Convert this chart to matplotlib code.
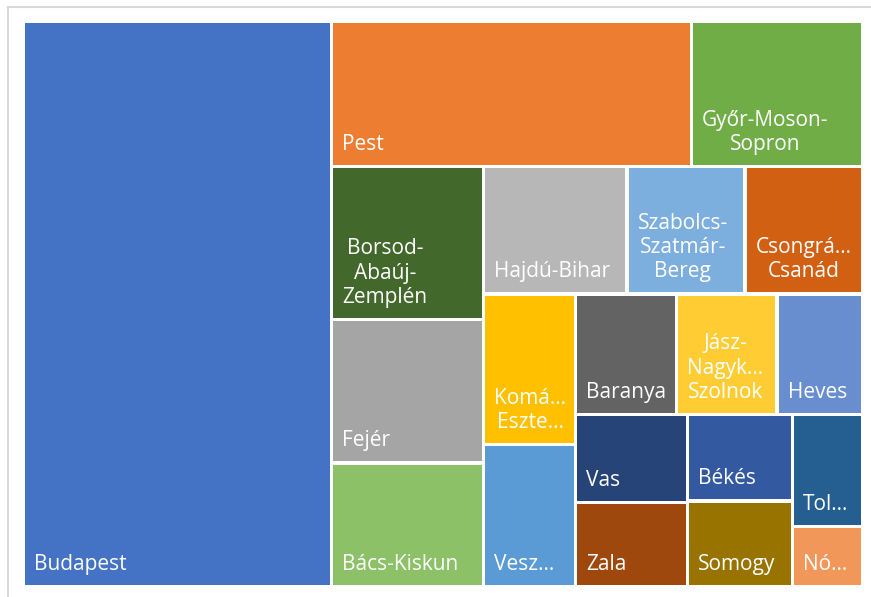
import matplotlib.pyplot as plt
from matplotlib.patches import Rectangle

counties = ["Budapest", "Pest", "Győr-Moson-Sopron", "Borsod-Abaúj-Zemplén", "Fejér",
            "Bács-Kiskun", "Hajdú-Bihar", "Szabolcs-Szatmár-Bereg", "Csongrád-Csanád",
            "Komárom-Esztergom", "Veszprém", "Baranya", "Jász-Nagykun-Szolnok", "Heves",
            "Vas", "Zala", "Békés", "Somogy", "Tolna", "Nógrád"]

# shown text (Excel wraps and cuts names with an ellipsis)
labels = ["Budapest", "Pest", "Győr-Moson-\nSopron", "Borsod-\nAbaúj-\nZemplén", "Fejér",
          "Bács-Kiskun", "Hajdú-Bihar", "Szabolcs-\nSzatmár-\nBereg", "Csongrá…\nCsanád",
          "Komá…\nEszte…", "Vesz…", "Baranya", "Jász-\nNagyk…\nSzolnok", "Heves",
          "Vas", "Zala", "Békés", "Somogy", "Tol…", "Nó…"]

values = [20204, 6053, 2877, 2695, 2527, 2175, 2123, 1746, 1738, 1606,
          1516, 1412, 1405, 1195, 1143, 1092, 1054, 1042, 910, 487]

colors = ["#4472C4", "#ED7D31", "#70AD47", "#43682B", "#A5A5A5", "#8CC168", "#B7B7B7",
          "#7CAFDD", "#D26012", "#FFC000", "#5B9BD5", "#636363", "#FFCD33", "#698ED0",
          "#264478", "#9E480E", "#335AA1", "#997300", "#255E91", "#F1975A"]

# number of items placed in each strip of the layout
strips = [1, 2, 3, 3, 2, 3, 2, 2, 1, 1]


def treemap(vals, W, H, strips):
    scale = W * H / float(sum(vals))
    areas = [v * scale for v in vals]
    x, y, w, h = 0.0, 0.0, float(W), float(H)
    rects = []
    i = 0
    for n in strips:
        chunk = areas[i:i + n]
        s = sum(chunk)
        if w >= h:
            cw = s / h
            yy = y
            for a in chunk:
                rects.append((x, yy, cw, a / cw))
                yy += a / cw
            x += cw
            w -= cw
        else:
            rh = s / w
            xx = x
            for a in chunk:
                rects.append((xx, y, a / rh, rh))
                xx += a / rh
            y += rh
            h -= rh
        i += n
    return rects


W, H = 839, 565
rects = treemap(values, W, H, strips)

fig = plt.figure(figsize=(8.71, 5.97), dpi=100)
ax = fig.add_axes([23.5 / 871, 1 - 586.5 / 597, W / 871, H / 597])
ax.set_xlim(0, W)
ax.set_ylim(H, 0)
ax.axis("off")

gap = 3.5
pad = 9
for (x, y, w, h), lab, col in zip(rects, labels, colors):
    ax.add_patch(Rectangle((x + gap / 2, y + gap / 2), w - gap, h - gap,
                           facecolor=col, edgecolor="none"))
    ax.text(x + gap / 2 + pad, y + h - gap / 2 - 10, lab, color="white",
            fontsize=15, family="Open Sans", ha="left", va="bottom",
            multialignment="center", linespacing=1.2)

# chart area border (cut off on the right and bottom)
fig.add_artist(Rectangle((8 / 871, -0.1), 1.0, 1 - 7 / 597 + 0.1,
                         transform=fig.transFigure, facecolor="none",
                         edgecolor="#D9D9D9", lw=1.5))

fig.savefig("out.png", dpi=100)
